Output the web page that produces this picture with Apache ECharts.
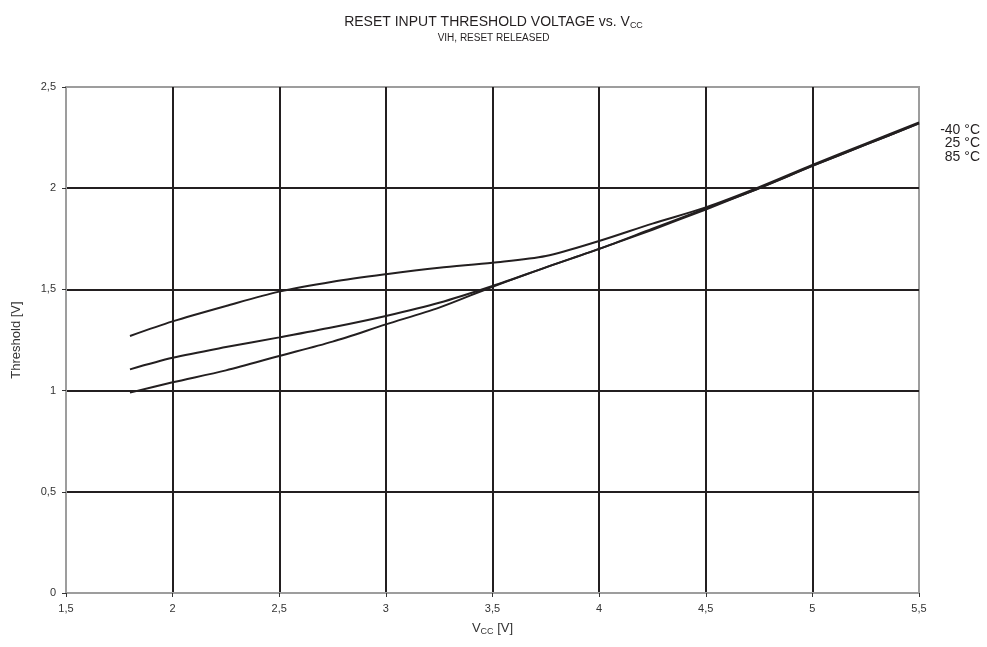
<!DOCTYPE html>
<html><head><meta charset="utf-8">
<script src="https://cdn.jsdelivr.net/npm/echarts@6/dist/echarts.min.js"></script>
<style>html,body{margin:0;padding:0;background:#fff}#c{width:987px;height:647px}</style>
</head><body><div id="c"></div>
<script>
const vcc = [1.8, 2.0, 2.25, 2.5, 2.75, 3.0, 3.25, 3.5, 3.75, 4.0, 4.25, 4.5, 4.75, 5.0, 5.25, 5.5];
const curveTop = [1.27, 1.342, 1.418, 1.489, 1.538, 1.575, 1.607, 1.632, 1.665, 1.739, 1.825, 1.905, 2.005, 2.115, 2.22, 2.325];
const curveMid = [1.105, 1.162, 1.215, 1.263, 1.313, 1.369, 1.434, 1.517, 1.609, 1.70, 1.80, 1.90, 2.00, 2.11, 2.215, 2.32];
const curveBot = [0.99, 1.041, 1.10, 1.171, 1.242, 1.327, 1.41, 1.513, 1.609, 1.70, 1.795, 1.895, 2.00, 2.11, 2.215, 2.32];
const tempLabels = ['-40 °C', '25 °C', '85 °C'];

const font = 'Liberation Sans, Arial, sans-serif';
const fmt = v => String(v).replace('.', ',');
const mk = (name, ys) => ({
  name, type: 'line', data: vcc.map((x, i) => [x, ys[i]]),
  showSymbol: false, smooth: 0.3, lineStyle: {color: '#231f20', width: 2}, z: 5
});
const chart = echarts.init(document.getElementById('c'));
chart.setOption({
  animation: false,
  backgroundColor: '#fff',
  title: [{
    text: '{a|RESET INPUT THRESHOLD VOLTAGE vs. V}{s|CC}',
    left: 'center', top: 9,
    textStyle: {rich: {a: {fontFamily: font, fontSize: 14, fontWeight: 'normal', color: '#231f20'}, s: {fontFamily: font, fontSize: 9, fontWeight: 'normal', color: '#231f20', verticalAlign: 'bottom', padding: [7, 0, 0, 0]}}}
  }, {
    text: 'VIH, RESET RELEASED', left: 'center', top: 28,
    textStyle: {fontFamily: font, fontSize: 10, fontWeight: 'normal', color: '#231f20'}
  }],
  grid: {left: 66, right: 68, top: 87, bottom: 54, show: true, borderColor: '#9d9d9d', borderWidth: 2},
  xAxis: {
    type: 'value', min: 1.5, max: 5.5, interval: 0.5,
    name: '{a|V}{s|CC}{a| [V]}', nameLocation: 'middle', nameGap: 28,
    nameTextStyle: {rich: {a: {fontFamily: font, fontSize: 13, color: '#333'}, s: {fontFamily: font, fontSize: 9, color: '#333', padding: [6, 0, 0, 0]}}},
    axisLine: {lineStyle: {color: '#9d9d9d', width: 2}},
    axisTick: {show: true, length: 4, lineStyle: {color: '#333'}},
    axisLabel: {formatter: fmt, fontFamily: font, fontSize: 11, color: '#333', margin: 10},
    splitLine: {show: true, showMinLine: false, showMaxLine: false, lineStyle: {color: '#231f20', width: 2}}
  },
  yAxis: {
    type: 'value', min: 0, max: 2.5, interval: 0.5,
    name: 'Threshold [V]', nameLocation: 'middle', nameGap: 43,
    nameTextStyle: {fontFamily: font, fontSize: 13, color: '#333'},
    axisLine: {show: true, lineStyle: {color: '#9d9d9d', width: 2}},
    axisTick: {show: true, length: 4, lineStyle: {color: '#333'}},
    axisLabel: {formatter: fmt, fontFamily: font, fontSize: 11, color: '#333', margin: 10},
    splitLine: {show: true, showMinLine: false, showMaxLine: false, lineStyle: {color: '#231f20', width: 2}}
  },
  series: [mk(tempLabels[0], curveTop), mk(tempLabels[1], curveMid), mk(tempLabels[2], curveBot)],
  graphic: tempLabels.map((t, i) => ({
    type: 'text', right: 7, top: 123 + i * 13.5,
    style: {text: t, font: '14px ' + font, fill: '#231f20', textAlign: 'right'}
  }))
});
</script></body></html>
